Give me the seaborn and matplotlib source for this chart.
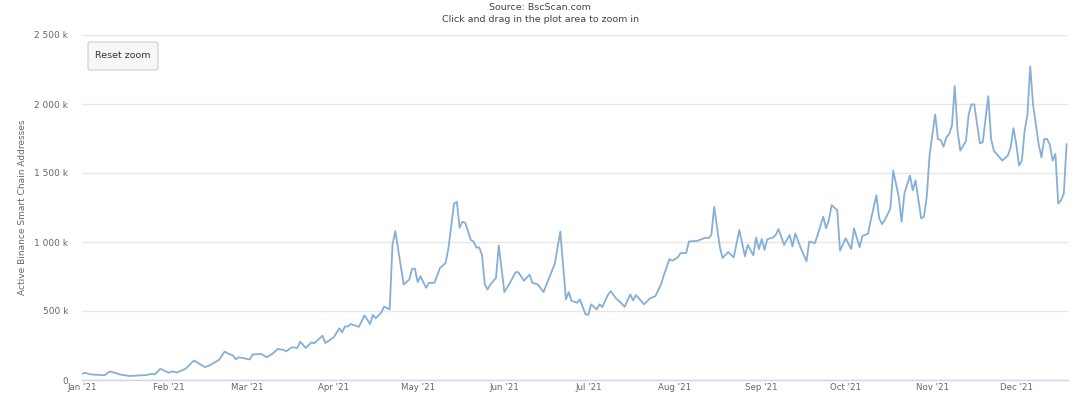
import numpy as np
import pandas as pd
import matplotlib
matplotlib.use("Agg")
import matplotlib.pyplot as plt
import seaborn as sns
from matplotlib.patches import FancyBboxPatch

# Daily active addresses on Binance Smart Chain, 2021 (thousands)
start_date = pd.Timestamp("2021-01-01")
day_offsets = [
    0, 1, 3, 8, 10, 14, 17, 23, 25, 26, 28, 31, 32, 34, 37, 40, 44, 46, 49, 51,
    52, 54, 55, 56, 60, 61, 64, 66, 68, 70, 72, 73, 75, 77, 78, 80, 82, 83, 86, 87,
    90, 92, 93, 94, 95, 96, 99, 101, 103, 104, 105, 107, 108, 110, 111, 112,
    115, 117, 118, 119, 120, 121, 123, 124, 126, 128, 130, 131, 133, 134, 135, 136,
    137, 139, 140, 141, 142, 143, 144, 145, 146, 148, 149, 151, 153, 155, 156, 158,
    160, 161, 163, 165, 167, 169, 171, 173, 174, 175, 177, 178, 180, 181, 182, 184,
    185, 186, 188, 189, 191, 192, 194, 196, 197, 198,
    201, 203, 205, 207, 208, 210, 211, 213, 214, 216, 217, 220, 223, 224, 225, 226,
    228, 229, 231, 233, 235, 237, 238, 240, 241, 242, 243, 244, 245, 247, 248, 249,
    251, 253, 254, 255, 257, 259, 260, 262, 263, 265, 266, 267, 268, 270, 271, 273,
    275, 276, 278, 279, 281, 282, 284, 285, 286, 287, 289, 290, 292, 293, 294, 296,
    297, 298, 300, 301, 302, 303, 305, 306, 307, 308, 309, 310, 311, 312, 313, 314,
    315, 316, 317, 318, 319, 320, 321, 322, 324, 325, 326, 328, 329, 331, 332, 333,
    334, 335, 336, 337, 338, 339, 340, 342, 343, 344, 345, 346, 347, 348, 349, 350,
    351, 352,
]
active_k = [
    45, 52, 41, 34, 62, 38, 29, 36, 45, 40, 81, 52, 62, 55, 81, 141, 93, 110, 146, 206,
    194, 177, 149, 165, 149, 185, 189, 165, 189, 225, 218, 208, 237, 232, 278, 232, 273, 266, 321, 268,
    309, 374, 345, 388, 388, 405, 386, 469, 405, 472, 448, 489, 532, 512, 979, 1080,
    692, 728, 805, 807, 709, 752, 668, 704, 704, 812, 848, 955, 1279, 1291, 1104, 1147,
    1140, 1015, 1004, 960, 960, 907, 692, 656, 692, 740, 975, 637, 704, 781, 781, 720,
    764, 704, 692, 637, 740, 840, 1075, 584, 637, 573, 560, 584, 476, 472, 548, 512,
    548, 529, 616, 644, 589, 573, 530, 620, 577, 616,
    548, 591, 608, 692, 759, 876, 864, 889, 920, 920, 1004, 1008, 1032, 1027, 1051, 1255,
    968, 884, 927, 889, 1087, 896, 979, 903, 1032, 948, 1022, 943, 1020, 1032, 1051, 1094,
    979, 1051, 968, 1063, 955, 860, 1004, 991, 1051, 1183, 1099, 1159, 1267, 1231, 936, 1027,
    950, 1099, 962, 1045, 1060, 1159, 1338, 1171, 1130, 1159, 1243, 1518, 1327, 1147, 1351, 1482,
    1374, 1446, 1171, 1183, 1327, 1626, 1925, 1746, 1739, 1690, 1758, 1782, 1842, 2129, 1805, 1662,
    1698, 1729, 1925, 1997, 1997, 1853, 1715, 1722, 2057, 1746, 1662, 1614, 1590, 1626, 1686, 1825,
    1710, 1554, 1590, 1805, 1925, 2272, 1997, 1710, 1614, 1746, 1746, 1705, 1590, 1638, 1279, 1302,
    1351, 1710,
]
month_labels = ["Jan '21", "Feb '21", "Mar '21", "Apr '21", "May '21", "Jun '21",
                "Jul '21", "Aug '21", "Sep '21", "Oct '21", "Nov '21", "Dec '21"]
y_ticks_k = [0, 500, 1000, 1500, 2000, 2500]
y_tick_labels = ["0", "500 k", "1 000 k", "1 500 k", "2 000 k", "2 500 k"]

df = pd.DataFrame({
    "date": start_date + pd.to_timedelta(day_offsets, unit="D"),
    "addresses": np.array(active_k) * 1000,
})

sns.set_style("white")
plt.rcParams["font.family"] = ["DejaVu Sans"]

W, H = 1080, 393
fig = plt.figure(figsize=(W / 100, H / 100), dpi=100)
ax = fig.add_axes([82 / W, 13 / H, 986 / W, 345 / H])

sns.lineplot(data=df, x="date", y="addresses", ax=ax, color="#86afd8",
             linewidth=1.3, zorder=3)

# y axis: gridlines every 500k, no axis line
ax.set_ylim(0, 2_500_000)
ax.set_yticks([v * 1000 for v in y_ticks_k])
ax.set_yticklabels(y_tick_labels)
ax.yaxis.grid(True, color="#e6e6e6", linewidth=1.0)
ax.set_axisbelow(True)
ax.tick_params(axis="y", length=0, pad=10, labelsize=6.5, labelcolor="#666666")
ax.set_ylabel("Active Binance Smart Chain Addresses", fontsize=6.5, color="#666666")
ax.yaxis.set_label_coords(-0.056, 0.5)

# x axis: month ticks
ax.set_xlim(start_date, start_date + pd.Timedelta(days=352.5))
month_starts = pd.date_range("2021-01-01", periods=12, freq="MS")
ax.set_xticks(month_starts)
ax.set_xticklabels(month_labels)
ax.tick_params(axis="x", length=5, width=0.8, color="#ccd6eb", direction="out",
               pad=-2.5, labelsize=6.2, labelcolor="#666666")
ax.set_xlabel("")

for side in ["top", "right", "left"]:
    ax.spines[side].set_visible(False)
ax.spines["bottom"].set_color("#ccd6eb")
ax.spines["bottom"].set_linewidth(1.0)

# subtitle lines
fig.text(0.5, 1 - 7 / H, "Source: BscScan.com", ha="center", va="center",
         fontsize=6.8, color="#444444")
fig.text(0.5, 1 - 20 / H, "Click and drag in the plot area to zoom in",
         ha="center", va="center", fontsize=6.8, color="#444444")

# reset zoom button
btn = FancyBboxPatch((88 / W, 1 - 70 / H), 70 / W, 28 / H,
                     boxstyle="round,pad=0,rounding_size=0.003",
                     transform=fig.transFigure, facecolor="#f7f7f7",
                     edgecolor="#cccccc", linewidth=0.8, zorder=5)
fig.patches.append(btn)
fig.text(123 / W, 1 - 56 / H, "Reset zoom", ha="center", va="center",
         fontsize=6.8, color="#333333", zorder=6)

fig.savefig("out.png", dpi=100)
